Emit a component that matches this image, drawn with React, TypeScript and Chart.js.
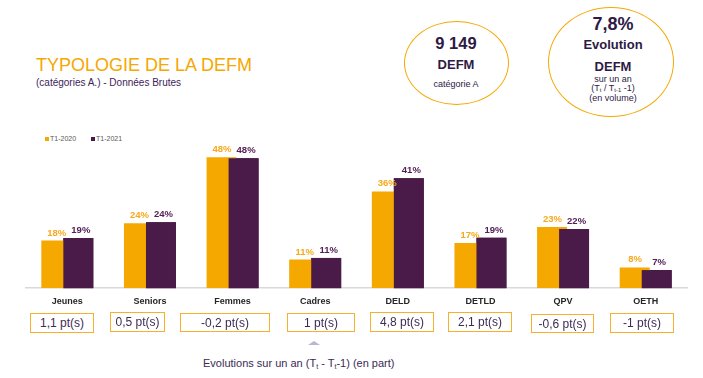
import React, { useEffect, useRef } from "react";
import { Chart, registerables } from "chart.js";

Chart.register(...registerables);

const CATEGORIES = ["Jeunes", "Seniors", "Femmes", "Cadres", "DELD", "DETLD", "QPV", "OETH"];
const SERIES_LABELS = ["T1-2020", "T1-2021"];
const SERIES_2020 = [17.6, 24.0, 48.4, 10.6, 35.8, 16.7, 22.6, 7.7];
const SERIES_2021 = [18.6, 24.4, 48.1, 11.2, 40.7, 18.7, 21.9, 6.7];
const EVOLUTIONS = ["1,1 pt(s)", "0,5 pt(s)", "-0,2 pt(s)", "1 pt(s)", "4,8 pt(s)", "2,1 pt(s)", "-0,6 pt(s)", "-1 pt(s)"];
const TOTAL_DEFM = "9 149";
const EVOLUTION_DEFM = "7,8%";

const ORANGE = "#F5A800";
const ORANGE_TXT = "#F7A81B";
const PURPLE = "#4A1A48";
const PURPLE_TXT = "#552058";
const DARK = "#2E1A44";
const FONT = "'Liberation Sans', Arial, sans-serif";

// box layout (left, top, width, height) — presentation only
const BOX_LAYOUT: [number, number, number, number][] = [
  [30, 313, 64, 20],
  [110, 312, 55, 20],
  [180, 313, 90, 19],
  [287, 313, 68, 19],
  [370, 312, 64, 20],
  [448, 312, 64, 20],
  [531, 314, 63, 19],
  [610, 313, 64, 20],
];

const labelPlugin = {
  id: "barLabels",
  afterDatasetsDraw(chart: any) {
    const ctx = chart.ctx;
    // second series overlaps the first one (drawn on top)
    const top = chart.getDatasetMeta(1);
    top.data.forEach((el: any) => el.draw(ctx, chart.chartArea));
    ctx.save();
    ctx.font = `bold 9.5px ${FONT}`;
    ctx.textAlign = "center";
    ctx.textBaseline = "alphabetic";
    chart.data.datasets.forEach((ds: any, di: number) => {
      const meta = chart.getDatasetMeta(di);
      ctx.fillStyle = di === 0 ? ORANGE_TXT : PURPLE_TXT;
      const dx = di === 0 ? 0.5 : 2.5;
      meta.data.forEach((el: any, i: number) => {
        const v = ds.data[i];
        ctx.fillText(Math.round(v) + "%", el.x + dx, el.y - 5);
      });
    });
    ctx.restore();
  },
};

function Txt(props: {
  x: number;
  capTop: number;
  size: number;
  bold?: boolean;
  color?: string;
  center?: boolean;
  children: React.ReactNode;
}) {
  const { x, capTop, size, bold, color, center, children } = props;
  const top = capTop - 0.13 * size;
  const style: React.CSSProperties = {
    position: "absolute",
    top,
    left: center ? x - 150 : x,
    width: center ? 300 : undefined,
    textAlign: center ? "center" : "left",
    fontFamily: FONT,
    fontSize: size,
    lineHeight: `${size}px`,
    fontWeight: bold ? "bold" : "normal",
    color: color || DARK,
    whiteSpace: "nowrap",
  };
  return <div style={style}>{children}</div>;
}

const subStyle: React.CSSProperties = { fontSize: "0.65em", verticalAlign: "-0.25em", lineHeight: 0 };

export default function App() {
  const canvasRef = useRef<HTMLCanvasElement | null>(null);

  useEffect(() => {
    if (!canvasRef.current) return;
    const chart = new Chart(canvasRef.current, {
      type: "bar",
      data: {
        labels: CATEGORIES,
        datasets: [
          { label: SERIES_LABELS[0], data: SERIES_2020, backgroundColor: ORANGE, categoryPercentage: 0.533, barPercentage: 1.36 },
          { label: SERIES_LABELS[1], data: SERIES_2021, backgroundColor: PURPLE, categoryPercentage: 0.533, barPercentage: 1.36 },
        ],
      },
      options: {
        responsive: false,
        animation: false,
        devicePixelRatio: 1,
        layout: { padding: { left: 26, right: 16, top: 33, bottom: 0 } },
        plugins: { legend: { display: false }, tooltip: { enabled: false } },
        scales: {
          x: {
            grid: { display: false, drawTicks: false },
            border: { display: true, color: "#D9D9D9", width: 1.5 },
            ticks: { color: "#262626", font: { family: FONT, size: 9, weight: "bold" }, padding: 8 },
          },
          y: { display: false, min: 0, max: 50 },
        },
      },
      plugins: [labelPlugin],
    });
    return () => chart.destroy();
  }, []);

  const ellipse = (cx: number, cy: number, rx: number, ry: number): React.CSSProperties => ({
    position: "absolute",
    left: cx - rx,
    top: cy - ry,
    width: rx * 2,
    height: ry * 2,
    borderRadius: "50%",
    border: `1.5px solid ${ORANGE}`,
    boxSizing: "border-box",
  });

  return (
    <div style={{ position: "fixed", left: 0, top: 0, width: 703, height: 378, background: "#fff", overflow: "hidden" }}>
      <Txt x={36} capTop={58} size={18} color={ORANGE}>TYPOLOGIE DE LA DEFM</Txt>
      <Txt x={36} capTop={79} size={10} color="#3D2458">(catégories A.) - Données Brutes</Txt>

      <div style={ellipse(456, 63, 52.5, 42)} />
      <Txt x={456} capTop={37} size={16.5} bold center>{TOTAL_DEFM}</Txt>
      <Txt x={456} capTop={60} size={13} bold center>DEFM</Txt>
      <Txt x={456} capTop={81} size={9} center>catégorie A</Txt>

      <div style={ellipse(611, 62, 63, 55)} />
      <Txt x={613} capTop={17.5} size={18} bold center>{EVOLUTION_DEFM}</Txt>
      <Txt x={613} capTop={40} size={13} bold center>Evolution</Txt>
      <Txt x={613} capTop={62} size={13} bold center>DEFM</Txt>
      <Txt x={613} capTop={76} size={9} center>sur un an</Txt>
      <Txt x={613} capTop={85.5} size={9} center>
        (T<span style={subStyle}>t</span> / T<span style={subStyle}>t-1</span> -1)
      </Txt>
      <Txt x={613} capTop={95} size={9} center>(en volume)</Txt>

      {/* legend */}
      <div style={{ position: "absolute", left: 45, top: 137, width: 4, height: 4, background: ORANGE }} />
      <Txt x={50} capTop={136} size={7} color="#595959">{SERIES_LABELS[0]}</Txt>
      <div style={{ position: "absolute", left: 91, top: 137, width: 4, height: 4, background: PURPLE }} />
      <Txt x={96} capTop={136} size={7} color="#595959">{SERIES_LABELS[1]}</Txt>

      <canvas ref={canvasRef} width={703} height={195} style={{ position: "absolute", left: 0, top: 120, width: 703, height: 195 }} />

      {EVOLUTIONS.map((t, i) => {
        const [l, tp, w, h] = BOX_LAYOUT[i];
        return (
          <div
            key={i}
            style={{
              position: "absolute",
              left: l,
              top: tp,
              width: w,
              height: h,
              boxSizing: "border-box",
              border: `1.5px solid #F7B02C`,
              background: "#fff",
              fontFamily: FONT,
              fontSize: 12,
              color: "#3D2B56",
              display: "flex",
              alignItems: "center",
              justifyContent: "center",
              whiteSpace: "nowrap",
            }}
          >
            {t}
          </div>
        );
      })}

      <svg style={{ position: "absolute", left: 306, top: 339 }} width={16} height={8}>
        <polygon points="2,6 14,6 8,2" fill="#B9B7CF" />
      </svg>
      <Txt x={203} capTop={359} size={11} color="#3B2A55">
        Evolutions sur un an (T<span style={subStyle}>t</span> - T<span style={subStyle}>t</span>-1) (en part)
      </Txt>
    </div>
  );
}
